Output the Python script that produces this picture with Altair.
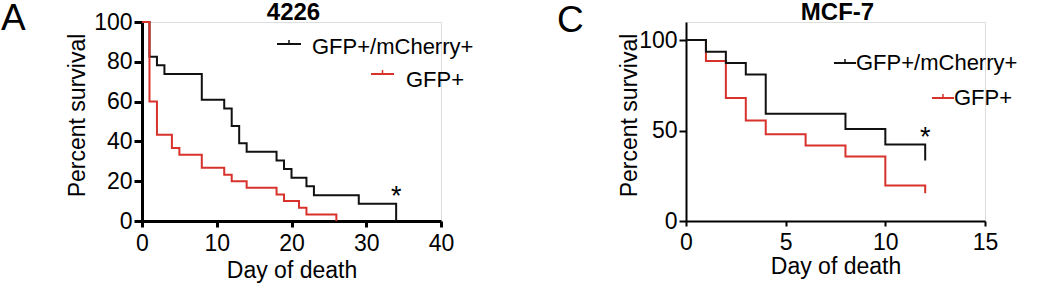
import altair as alt
import pandas as pd

FONT = "Liberation Sans"
RED = "#d8322c"
BLACK = "#111111"

# Panel A (4226)
a_black_day = [0, 1, 2, 3, 8, 11, 12, 13, 14, 18, 19, 20, 22, 23, 29, 34]
a_black_surv = [100, 82.6, 78.3, 73.9, 60.9, 56.5, 47.8, 39.1, 34.8, 30.4, 26.1, 21.7, 17.4, 13.0, 8.7, 0]
a_red_day = [0, 1, 2, 4, 5, 8, 11, 12, 14, 18, 19, 21, 22, 26]
a_red_surv = [100, 60, 43.3, 36.7, 33.3, 26.7, 23.3, 20, 16.7, 13.3, 10, 6.7, 3.3, 0]

# Panel C (MCF-7)
c_black_day = [0, 1, 2, 3, 4, 8, 10, 12]
c_black_surv = [100, 93.5, 87.4, 81.0, 59.3, 50.8, 42.3, 33.5]
c_red_day = [0, 1, 2, 3, 4, 6, 8, 10, 12]
c_red_surv = [100, 88.4, 68.0, 55.6, 47.9, 41.8, 35.7, 19.6, 15.3]

a_xticks = [0, 10, 20, 30, 40]
a_yticks = [0, 20, 40, 60, 80, 100]
c_xticks = [0, 5, 10, 15]
c_yticks = [0, 50, 100]

series_names = ["GFP+/mCherry+", "GFP+"]

one = pd.DataFrame({"k": [0]})


def panel(black_day, black_surv, red_day, red_surv, xdom, xticks, ydom, yticks,
          W, H, axw, xtick, ytick, ytitlex, xtitley, xlabely, title, letter, letter_x, letter_y,
          leg, star, red_on_top):
    bdf = pd.DataFrame({"day": black_day, "surv": black_surv})
    rdf = pd.DataFrame({"day": red_day, "surv": red_surv})
    sdf = pd.DataFrame({"day": [star[0]], "surv": [star[1]]})
    xenc = alt.X("day:Q", scale=alt.Scale(domain=xdom, nice=False, zero=False),
                 axis=alt.Axis(values=xticks, title="Day of death", grid=False,
                               domainWidth=axw, tickWidth=axw, tickSize=xtick,
                               domainColor="black", tickColor="black",
                               labelFont=FONT, labelFontSize=23, labelColor="black",
                               labelBaseline="alphabetic", labelPadding=xlabely - xtick,
                               labelFlush=False, labelOverlap=False,
                               titleFont=FONT, titleFontSize=23, titleFontWeight="normal",
                               titleColor="black", titleX=W / 2, titleY=xtitley,
                               titleBaseline="alphabetic", titleAlign="center"))
    yenc = alt.Y("surv:Q", scale=alt.Scale(domain=ydom, nice=False),
                 axis=alt.Axis(values=yticks, title="Percent survival", grid=False,
                               domainWidth=axw, tickWidth=axw, tickSize=ytick,
                               domainColor="black", tickColor="black",
                               labelFont=FONT, labelFontSize=23, labelColor="black",
                               labelPadding=2, labelFlush=False, labelOverlap=False,
                               titleFont=FONT, titleFontSize=23, titleFontWeight="normal",
                               titleColor="black", titleX=ytitlex, titleY=93,
                               titleAngle=270, titleBaseline="alphabetic", titleAlign="center"))
    black = alt.Chart(bdf).mark_line(interpolate="step-after", color=BLACK, strokeWidth=2).encode(x=xenc, y=yenc)
    red = alt.Chart(rdf).mark_line(interpolate="step-after", color=RED, strokeWidth=2).encode(x=xenc, y=yenc)
    lines = [black, red] if red_on_top else [red, black]

    layers = list(lines)
    # legend
    (bx1, bx2, by, btx, bty, rx1, rx2, ry, rtx, rty) = leg
    for (x1, x2, y, tx, ty, col, name) in [(bx1, bx2, by, btx, bty, BLACK, series_names[0]),
                                            (rx1, rx2, ry, rtx, rty, RED, series_names[1])]:
        layers.append(alt.Chart(one).mark_rule(color=col, strokeWidth=2).encode(
            x=alt.value(x1), x2=alt.value(x2), y=alt.value(y)))
        layers.append(alt.Chart(one).mark_rule(color=col, strokeWidth=1.5).encode(
            x=alt.value((x1 + x2) / 2), y=alt.value(y - 4), y2=alt.value(y)))
        layers.append(alt.Chart(one).mark_text(text=name, align="left", baseline="alphabetic",
                                               font=FONT, fontSize=22, color="black").encode(
            x=alt.value(tx), y=alt.value(ty)))
    # asterisk (same scales / axes as the lines)
    layers.append(alt.Chart(sdf).mark_text(text="*", align="center", baseline="alphabetic",
                                           font=FONT, fontSize=27, color="black").encode(
        x=xenc, y=yenc))
    # title
    layers.append(alt.Chart(one).mark_text(text=title, align="center", baseline="alphabetic",
                                           font=FONT, fontSize=24, fontWeight="bold", color="black").encode(
        x=alt.value(W / 2 + 2), y=alt.value(-2)))
    # panel letter
    layers.append(alt.Chart(one).mark_text(text=letter, align="left", baseline="alphabetic",
                                           font=FONT, fontSize=37, color="black").encode(
        x=alt.value(letter_x), y=alt.value(letter_y)))
    return alt.layer(*layers).properties(width=W, height=H)


pa = panel(a_black_day, a_black_surv, a_red_day, a_red_surv, [0, 40], a_xticks, [0, 100], a_yticks,
           299, 199, 3, 6, 8, -58, 56, 29, "4226", "A", -141, 8,
           (135, 159, 22, 170, 32, 229, 252, 52, 264, 65), (34, 8), True)
pc = panel(c_black_day, c_black_surv, c_red_day, c_red_surv, [0, 15], c_xticks, [0, 110], c_yticks,
           299, 199, 2, 5, 7, -50, 52, 28, "MCF-7", "C", -129, 10,
           (148, 170, 41, 170, 48, 246, 268, 76, 268, 83), (12, 41.7), False)

chart = alt.hconcat(pa, pc, spacing=245, bounds="flush").properties(
    padding={"left": 0, "top": -1, "right": 5, "bottom": 5}
).configure_view(strokeWidth=0).configure(background="white")

chart.save("out.html", embed_options={"renderer": "svg", "actions": False})
